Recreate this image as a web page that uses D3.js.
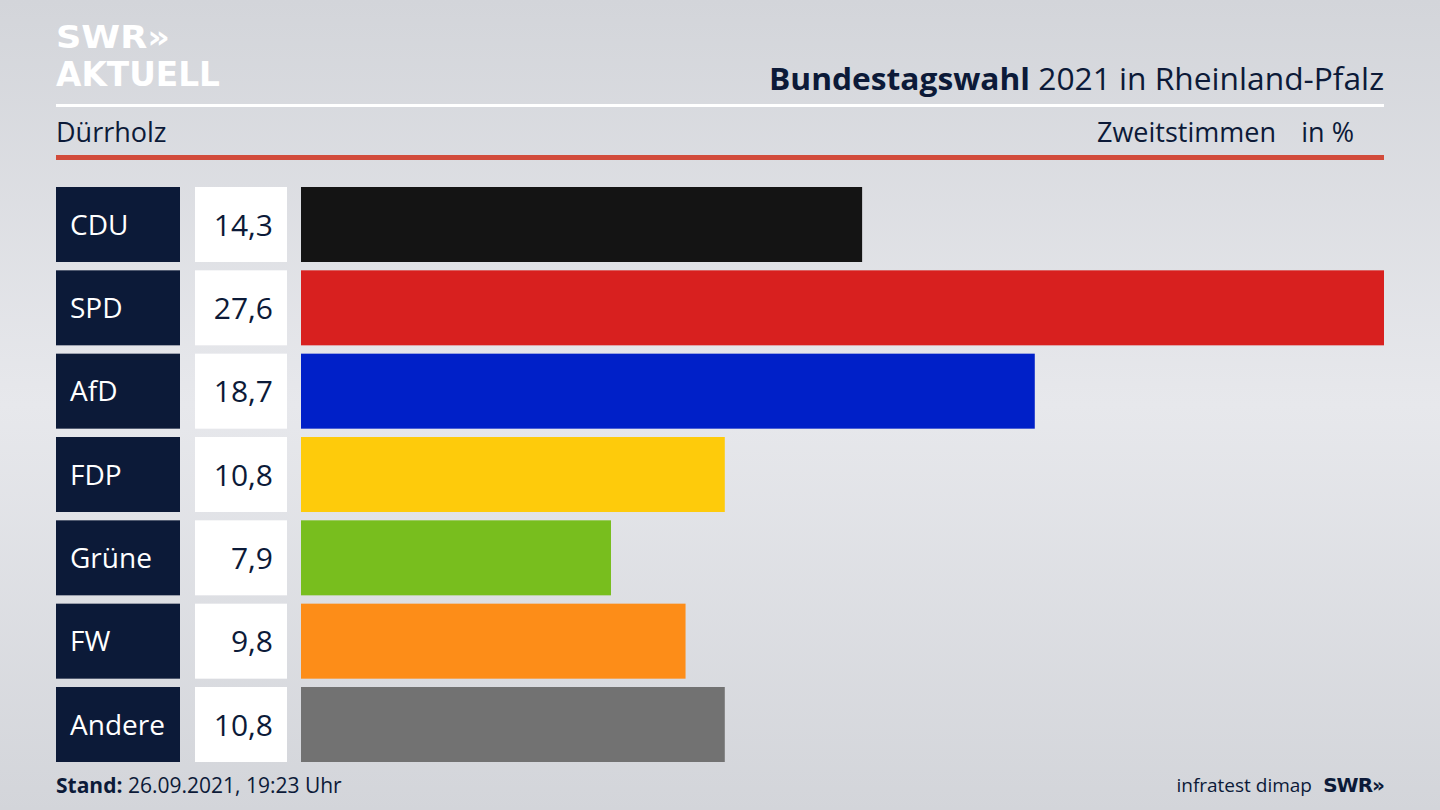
<!DOCTYPE html>
<html><head><meta charset="utf-8">
<script src="https://cdn.jsdelivr.net/npm/d3@7"></script>
<style>body{margin:0;}svg{display:block;font-family:"Open Sans","Noto Sans",sans-serif;}</style>
</head><body><svg id="c" width="1440" height="810"></svg>
<script>
const parties = ["CDU","SPD","AfD","FDP","Grüne","FW","Andere"];
const values = [14.3,27.6,18.7,10.8,7.9,9.8,10.8];
const colors = ["#141414","#d8201f","#0020c8","#fecb0b","#78be1e","#fd8d18","#727272"];
const svg = d3.select("#c");
const defs = svg.append("defs");
const g = defs.append("linearGradient").attr("id","bg").attr("x1",0).attr("y1",0).attr("x2",0).attr("y2",1);
g.append("stop").attr("offset","0%").attr("stop-color","#d3d5da");
g.append("stop").attr("offset","50%").attr("stop-color","#e7e8ec");
g.append("stop").attr("offset","100%").attr("stop-color","#d3d5da");
svg.append("rect").attr("width",1440).attr("height",810).attr("fill","url(#bg)");
// logo
svg.append("text").attr("x",56).attr("y",48).attr("font-size",32).attr("font-weight",900).attr("fill","#fff").attr("font-family","DejaVu Sans").attr("textLength",114).attr("lengthAdjust","spacingAndGlyphs").text("SWR»");
svg.append("text").attr("x",56).attr("y",86).attr("font-size",33).attr("font-weight",700).attr("fill","#fff").attr("font-family","DejaVu Sans").attr("textLength",164).attr("lengthAdjust","spacingAndGlyphs").text("AKTUELL");
svg.append("rect").attr("x",56).attr("y",104).attr("width",1328).attr("height",3).attr("fill","#fff");
const t = svg.append("text").attr("x",1384).attr("y",90).attr("text-anchor","end").attr("font-size",31).attr("fill","#0c1a38").attr("textLength",615).attr("lengthAdjust","spacingAndGlyphs");
t.append("tspan").attr("font-weight",700).text("Bundestagswahl");
t.append("tspan").text(" 2021 in Rheinland-Pfalz");
svg.append("text").attr("x",56).attr("y",142).attr("font-size",27).attr("fill","#0c1a38").text("Dürrholz");
svg.append("text").attr("x",1276).attr("y",142).attr("text-anchor","end").attr("font-size",27).attr("fill","#0c1a38").text("Zweitstimmen");
svg.append("text").attr("x",1354).attr("y",142).attr("text-anchor","end").attr("font-size",27).attr("fill","#0c1a38").text("in %");
svg.append("rect").attr("x",56).attr("y",155).attr("width",1328).attr("height",5).attr("fill","#d24b3b");

const x = d3.scaleLinear().domain([0,27.6]).range([301,1384]);
const y = d3.scaleBand().domain(parties).range([187,762]).paddingInner(0.1).paddingOuter(0);
const rows = svg.selectAll("g.row").data(parties).join("g");
rows.append("rect").attr("x",56).attr("y",d=>y(d)).attr("width",124).attr("height",y.bandwidth()).attr("fill","#0c1a38");
rows.append("text").attr("x",70).attr("y",d=>y(d)+y.bandwidth()/2+10).attr("font-size",28).attr("fill","#fff").text(d=>d);
rows.append("rect").attr("x",195).attr("y",d=>y(d)).attr("width",92).attr("height",y.bandwidth()).attr("fill","#fff");
rows.append("text").attr("x",273).attr("y",d=>y(d)+y.bandwidth()/2+11).attr("text-anchor","end").attr("font-size",30).attr("fill","#0c1a38").text((d,i)=>values[i].toFixed(1).replace(".",","));
rows.append("rect").attr("x",x(0)).attr("y",d=>y(d)).attr("width",(d,i)=>x(values[i])-x(0)).attr("height",y.bandwidth()).attr("fill",(d,i)=>colors[i]);

const f = svg.append("text").attr("x",56).attr("y",793).attr("font-size",21).attr("fill","#0c1a38");
f.append("tspan").attr("font-weight",700).text("Stand:");
f.append("tspan").text(" 26.09.2021, 19:23 Uhr");
svg.append("text").attr("x",1312).attr("y",792).attr("text-anchor","end").attr("font-size",19).attr("fill","#0c1a38").text("infratest dimap");
svg.append("text").attr("x",1384).attr("y",792).attr("text-anchor","end").attr("font-size",20).attr("font-weight",900).attr("font-family","DejaVu Sans").attr("fill","#0c1a38").attr("letter-spacing",-1).text("SWR»");
</script></body></html>
